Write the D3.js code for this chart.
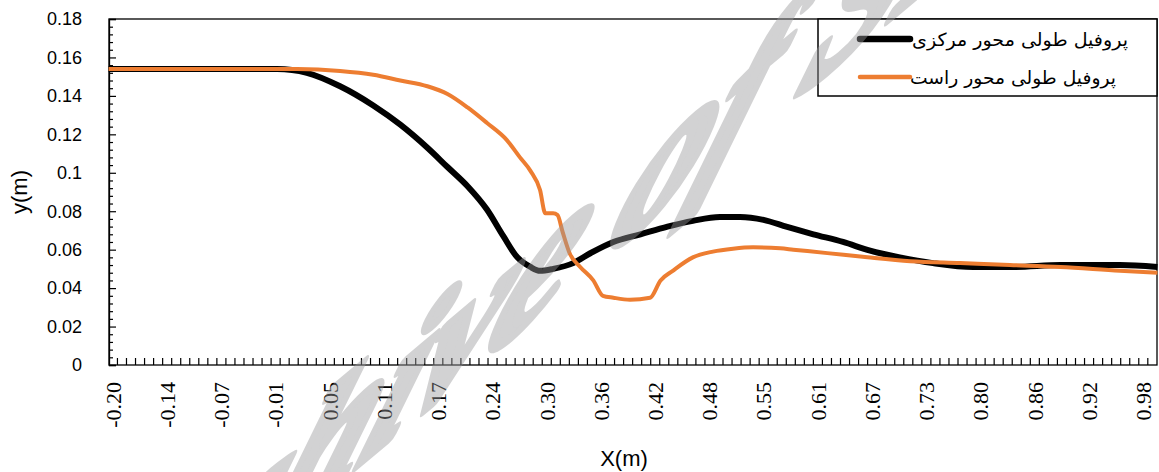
<!DOCTYPE html>
<html><head><meta charset="utf-8">
<script src="https://cdn.jsdelivr.net/npm/d3@7"></script>
<style>body{margin:0;background:#fff;} svg{display:block;}</style>
</head><body>
<svg id="chart" width="1159" height="472"></svg>
<script>
// ---- data ----
const seriesNames = ["پروفیل طولی محور مرکزی", "پروفیل طولی محور راست"];
const centerX = [-0.205,-0.012,0.022,0.060,0.098,0.129,0.160,0.183,0.206,0.228,0.247,0.263,0.278,0.289,0.304,0.327,0.346,0.373,0.404,0.435,0.464,0.495,0.518,0.545,0.572,0.602,0.636,0.667,0.701,0.739,0.785,0.831,0.885,0.953,0.996];
const centerY = [0.154,0.154,0.152,0.145,0.135,0.125,0.113,0.103,0.093,0.081,0.067,0.056,0.051,0.049,0.050,0.053,0.058,0.064,0.068,0.072,0.075,0.077,0.077,0.0755,0.0718,0.068,0.064,0.0595,0.056,0.053,0.051,0.051,0.052,0.052,0.051];
const rightX = [-0.205,0.011,0.060,0.098,0.129,0.160,0.183,0.206,0.228,0.251,0.266,0.278,0.289,0.295,0.304,0.309,0.315,0.323,0.335,0.350,0.361,0.373,0.392,0.415,0.427,0.441,0.464,0.487,0.510,0.533,0.564,0.579,0.618,0.664,0.713,0.770,0.827,0.885,0.953,0.996];
const rightY = [0.154,0.154,0.153,0.151,0.148,0.145,0.141,0.134,0.126,0.117,0.108,0.101,0.091,0.079,0.079,0.078,0.069,0.058,0.051,0.044,0.036,0.035,0.034,0.035,0.044,0.049,0.056,0.059,0.0605,0.0612,0.0607,0.0600,0.0582,0.0560,0.054,0.053,0.052,0.051,0.049,0.048];
const xTickLabels = ["-0.20","-0.14","-0.07","-0.01","0.05","0.11","0.17","0.24","0.30","0.36","0.42","0.48","0.55","0.61","0.67","0.73","0.80","0.86","0.92","0.98"];
const xTickValues = xTickLabels.map((d,i) => -0.2 + i*0.0621);
const yTickValues = [0,0.02,0.04,0.06,0.08,0.1,0.12,0.14,0.16,0.18];
const colors = ["#000000", "#ED7D31"];

// ---- layout ----
const svg = d3.select("#chart");
const L = 109, R = 1157, T = 19, B = 365;
const x = d3.scaleLinear().domain([-0.2046, 0.9955]).range([L, R]);
const y = d3.scaleLinear().domain([0, 0.18]).range([B, T]);

// plot border
svg.append("rect").attr("x", L).attr("y", T).attr("width", R-L).attr("height", B-T)
  .attr("fill", "none").attr("stroke", "#000").attr("stroke-width", 1.3);

// y axis
const yAxis = d3.axisRight(y).tickValues(yTickValues).tickSize(7).tickFormat("");
const gy = svg.append("g").attr("transform", `translate(${L},0)`).call(yAxis);
gy.select(".domain").attr("stroke-width", 1.3);
gy.selectAll(".tick line").attr("stroke-width", 1.2);
const yMinor = d3.axisRight(y).tickValues(d3.range(0, 0.1801, 0.004).filter(v => Math.abs(v/0.02 - Math.round(v/0.02)) > 1e-6)).tickSize(4).tickFormat("");
const gym = svg.append("g").attr("transform", `translate(${L},0)`).call(yMinor);
gym.select(".domain").remove();
gym.selectAll(".tick line").attr("stroke-width", 1.2);
svg.append("g").selectAll("text").data(yTickValues).join("text")
  .attr("x", 82).attr("y", d => y(d)).attr("dy", "0.35em")
  .attr("text-anchor", "end").attr("font-family", "Liberation Sans, Arial, sans-serif")
  .attr("font-size", 18).attr("fill", "#000").text(d => d3.format("")(+d.toFixed(2)));

// x axis
const xMinorVals = d3.range(0, 115).map(k => -0.2 + 0.0045 + k*0.01035).filter(v => v < 0.995);
const xAxis = d3.axisTop(x).tickValues(xMinorVals).tickSize(7).tickFormat("");
const gx = svg.append("g").attr("transform", `translate(0,${B})`).call(xAxis);
gx.select(".domain").remove();
gx.selectAll(".tick line").attr("stroke-width", 1.2);
svg.append("g").selectAll("text").data(xTickValues).join("text")
  .attr("transform", d => `translate(${x(d)},382) rotate(-90)`)
  .attr("dy", "0.35em").attr("text-anchor", "end")
  .attr("font-family", "Liberation Serif, Times New Roman, serif")
  .attr("font-size", 22).attr("fill", "#000").text((d,i) => xTickLabels[i]);

// axis titles
svg.append("text").attr("x", 624).attr("y", 466).attr("text-anchor", "middle")
  .attr("font-family", "Liberation Sans, Arial, sans-serif").attr("font-size", 22).text("X(m)");
svg.append("text").attr("transform", "translate(27,192) rotate(-90)").attr("text-anchor", "middle")
  .attr("font-family", "Liberation Sans, Arial, sans-serif").attr("font-size", 22).text("y(m)");

// lines
const line = d3.line().x(d => x(d[0])).y(d => y(d[1])).curve(d3.curveMonotoneX);
const series = [d3.zip(centerX, centerY), d3.zip(rightX, rightY)];
const widths = [6, 4];
series.forEach((s, i) => {
  svg.append("path").datum(s).attr("d", line).attr("fill", "none")
    .attr("stroke", colors[i]).attr("stroke-width", widths[i])
    .attr("stroke-linejoin", "round").attr("stroke-linecap", "butt");
});

// legend
const lg = svg.append("g");
lg.append("rect").attr("x", 818).attr("y", T).attr("width", R-818).attr("height", 77)
  .attr("fill", "#fff").attr("stroke", "#000").attr("stroke-width", 1.5);
const legY = [39, 77], legTextX = [1128, 1116], legTextLen = [216, 206];
seriesNames.forEach((n, i) => {
  lg.append("line").attr("x1", 860).attr("x2", 910).attr("y1", legY[i]).attr("y2", legY[i])
    .attr("stroke", colors[i]).attr("stroke-width", widths[i] + 0.5).attr("stroke-linecap", "round");
  lg.append("text").attr("x", legTextX[i] - legTextLen[i]).attr("y", legY[i] + 7)
    .attr("textLength", legTextLen[i]).attr("lengthAdjust", "spacingAndGlyphs")
    .attr("font-family", "DejaVu Sans, sans-serif").attr("font-size", 18).text(n);
});

// watermark overlay (semi-transparent)
svg.append("g").attr("opacity", 0.44)
  .append("text").attr("transform", "matrix(0.766,-0.643,-0.375,0.927,-9,773)")
  .attr("font-family", "Liberation Serif, Times New Roman, serif").attr("font-style", "italic")
  .attr("font-weight", "bold").attr("font-size", 230).attr("fill", "#9a9a9c")
  .attr("stroke", "#9a9a9c").attr("stroke-width", 14).attr("stroke-linejoin", "round")
  .text("Archive of SID");
</script>
</body></html>
